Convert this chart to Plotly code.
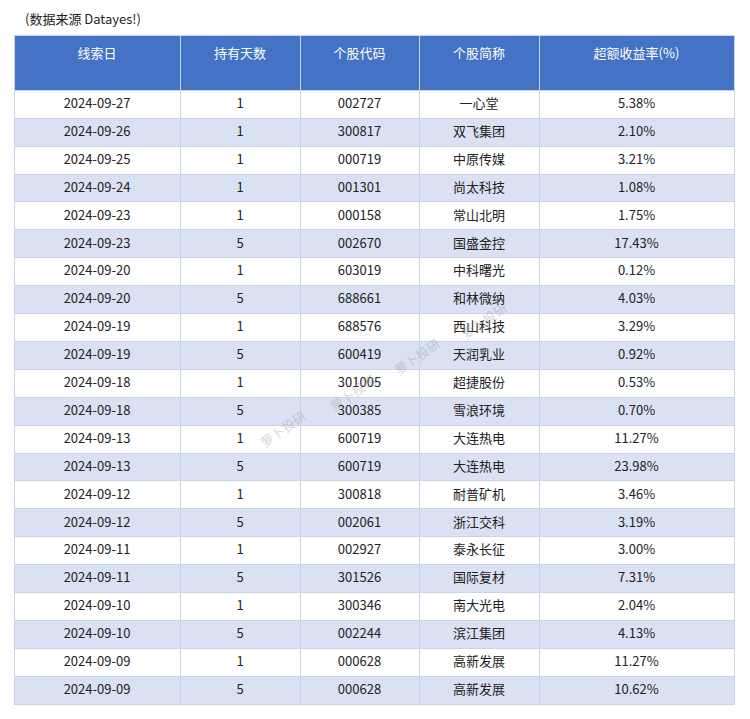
import plotly.graph_objects as go

dates = ['2024-09-27', '2024-09-26', '2024-09-25', '2024-09-24', '2024-09-23', '2024-09-23',
         '2024-09-20', '2024-09-20', '2024-09-19', '2024-09-19', '2024-09-18', '2024-09-18',
         '2024-09-13', '2024-09-13', '2024-09-12', '2024-09-12', '2024-09-11', '2024-09-11',
         '2024-09-10', '2024-09-10', '2024-09-09', '2024-09-09']
hold_days = [1, 1, 1, 1, 1, 5, 1, 5, 1, 5, 1, 5, 1, 5, 1, 5, 1, 5, 1, 5, 1, 5]
codes = ['002727', '300817', '000719', '001301', '000158', '002670', '603019', '688661',
         '688576', '600419', '301005', '300385', '600719', '600719', '300818', '002061',
         '002927', '301526', '300346', '002244', '000628', '000628']
names = ['一心堂', '双飞集团', '中原传媒', '尚太科技', '常山北明', '国盛金控', '中科曙光', '和林微纳',
         '西山科技', '天润乳业', '超捷股份', '雪浪环境', '大连热电', '大连热电', '耐普矿机', '浙江交科',
         '泰永长征', '国际复材', '南大光电', '滨江集团', '高新发展', '高新发展']
excess = ['5.38%', '2.10%', '3.21%', '1.08%', '1.75%', '17.43%', '0.12%', '4.03%', '3.29%',
          '0.92%', '0.53%', '0.70%', '11.27%', '23.98%', '3.46%', '3.19%', '3.00%', '7.31%',
          '2.04%', '4.13%', '11.27%', '10.62%']
headers = ['线索日', '持有天数', '个股代码', '个股简称', '超额收益率(%)']

font = 'Noto Sans CJK SC'
row_colors = ['white' if i % 2 == 0 else '#D9E1F2' for i in range(len(dates))]

fig = go.Figure(go.Table(
    domain=dict(x=[0.008, 0.968], y=[0.0, 0.962]),
    columnwidth=[166, 120, 119, 120, 195],
    header=dict(values=['<br>' + h for h in headers], fill_color='#4472C4',
                line=dict(color='#C9D3E8', width=1),
                font=dict(color='white', size=13, family=font), align='center', height=55),
    cells=dict(values=[dates, hold_days, codes, names, excess],
               fill_color=[row_colors] * 5, line=dict(color='#C9D3E8', width=1),
               font=dict(color='#222222', size=13, family=font), align='center', height=27.9),
))

fig.add_annotation(x=0.02, y=0.985, xref='paper', yref='paper', xanchor='left', yanchor='middle',
                   text='(数据来源 Datayes!)', showarrow=False, font=dict(size=13, family=font, color='#222222'))

for wx, wy in [(0.367, 0.415), (0.46, 0.465), (0.545, 0.515), (0.635, 0.565)]:
    fig.add_annotation(x=wx, y=wy, xref='paper', yref='paper', text='萝卜投研',
                       showarrow=False, textangle=-35, font=dict(size=13, family=font, color='rgba(150,150,150,0.4)'))

fig.update_layout(width=750, height=719, margin=dict(l=0, r=0, t=0, b=0),
                  paper_bgcolor='white', plot_bgcolor='white')
fig.write_html('out.html')
